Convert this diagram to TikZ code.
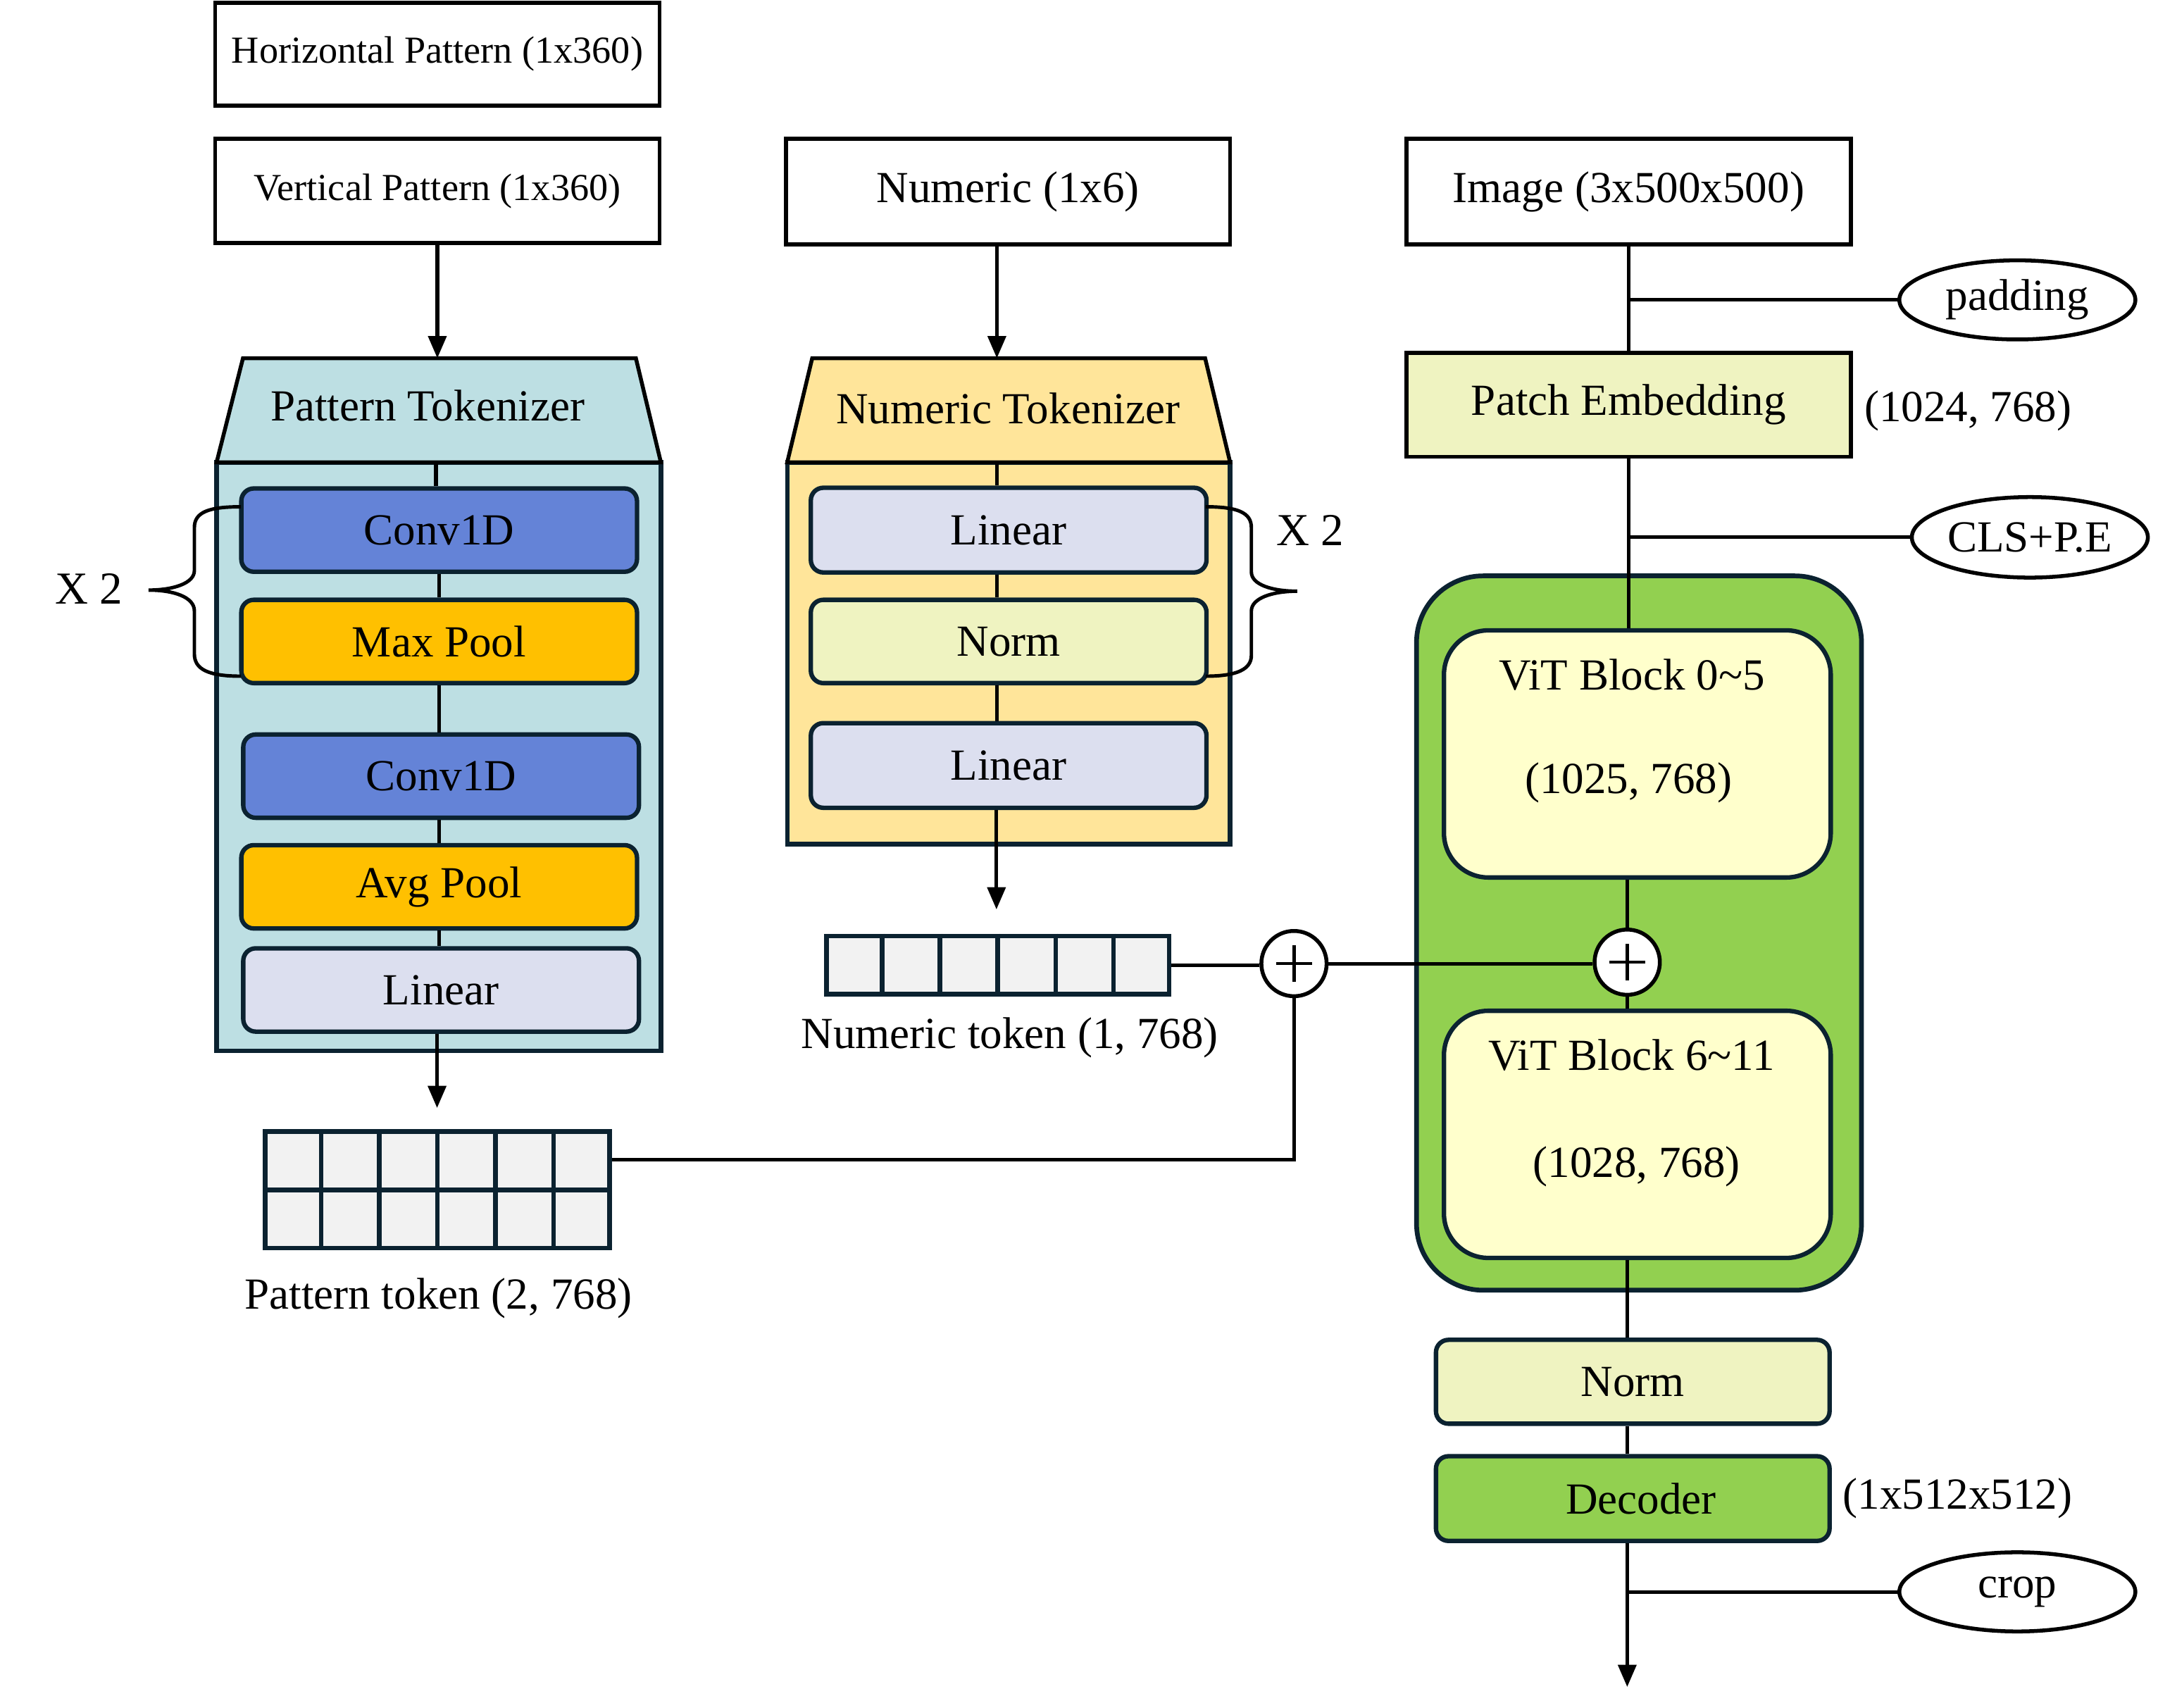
\documentclass[tikz,border=0pt]{standalone}
\usepackage{fontspec}
\setmainfont{Liberation Serif}
\usetikzlibrary{arrows.meta,shapes.geometric,calc}
\definecolor{navy}{HTML}{0B2230}
\definecolor{ptokc}{HTML}{BDDFE3}
\definecolor{ntokc}{HTML}{FFE59A}
\definecolor{convc}{HTML}{6483D7}
\definecolor{poolc}{HTML}{FFC000}
\definecolor{linc}{HTML}{DCDFEF}
\definecolor{normc}{HTML}{EFF3C1}
\definecolor{greenc}{HTML}{92D050}
\definecolor{vitc}{HTML}{FFFFCC}
\definecolor{cellc}{HTML}{F2F2F2}
\newcommand{\myfs}[1]{\fontsize{#1}{#1}\selectfont}
\tikzset{
  plainbox/.style={draw=black, line width=2.9pt, fill=white, inner sep=0pt, font=\myfs{32}},
  blockbox/.style={draw=navy, line width=3.2pt, rounded corners=9pt, inner sep=0pt,
                   minimum width=285pt, minimum height=60pt, font=\myfs{32}},
  conn/.style={line width=2.6pt, draw=black},
  arr/.style={conn, -{Triangle[length=16pt,width=13pt]}},
  oval/.style={ellipse, draw=black, line width=2.8pt, fill=white, inner sep=0pt,
               minimum width=170pt, minimum height=57pt, font=\myfs{32}},
  plusnode/.style={circle, draw=black, line width=2.8pt, fill=white, minimum size=47pt, inner sep=0pt,
    path picture={\draw[line width=2.4pt,black]
      ($(path picture bounding box.center)+(-13pt,0)$) -- ($(path picture bounding box.center)+(13pt,0)$)
      ($(path picture bounding box.center)+(0,-13pt)$) -- ($(path picture bounding box.center)+(0,13pt)$);}},
  bracepath/.style={line width=2.5pt, draw=black},
  txt/.style={inner sep=0pt, font=\myfs{32}},
}
\begin{document}
\begin{tikzpicture}[x=1pt,y=-1pt]
\useasboundingbox[fill=white] (0,0) rectangle (1568,1230);

% ---------------- inputs ----------------
\node[plainbox, minimum width=320pt, minimum height=74pt, font=\myfs{27.5}] (hpat) at (315,39) {Horizontal Pattern (1x360)};
\node[plainbox, minimum width=320pt, minimum height=75pt, font=\myfs{27.5}] (vpat) at (315,137.5) {Vertical Pattern (1x360)};
\node[plainbox, minimum width=320pt, minimum height=76pt] (num) at (726,138) {Numeric (1x6)};
\node[plainbox, minimum width=320pt, minimum height=76pt] (img) at (1173,138) {Image (3x500x500)};

% ---------------- pattern tokenizer ----------------
\node[draw=navy, fill=ptokc, line width=3.2pt, minimum width=320pt, minimum height=424pt, inner sep=0pt] (pbody) at (316,545) {};
\path[fill=ptokc, draw=black, line width=2.8pt, line join=miter] (175,258) -- (458,258) -- (476,333) -- (156,333) -- cycle;
\node[txt] (ptok) at (308,292) {Pattern Tokenizer};
\coordinate (ptraptop) at (314,258);
\coordinate (ptrapbot) at (314,333);

\node[blockbox, fill=convc] (pconv1) at (316.3,381.8) {Conv1D};
\node[blockbox, fill=poolc] (pmax) at (316.3,462) {Max Pool};
\node[blockbox, fill=convc] (pconv2) at (317.7,559) {Conv1D};
\node[blockbox, fill=poolc] (pavg) at (316.3,638.7) {Avg Pool};
\node[blockbox, fill=linc] (plin) at (317.7,713) {Linear};

% ---------------- numeric tokenizer ----------------
\node[draw=navy, fill=ntokc, line width=3.2pt, minimum width=319pt, minimum height=275pt, inner sep=0pt] (nbody) at (726.5,470.5) {};
\path[fill=ntokc, draw=black, line width=2.8pt, line join=miter] (585,258) -- (868,258) -- (886,333) -- (567,333) -- cycle;
\node[txt] (ntok) at (726,294) {Numeric Tokenizer};
\coordinate (ntraptop) at (718,258);
\coordinate (ntrapbot) at (718,333);

\node[blockbox, fill=linc, minimum height=61pt] (nlin1) at (726.5,381.8) {Linear};
\node[blockbox, fill=normc] (nnorm) at (726.5,462) {Norm};
\node[blockbox, fill=linc, minimum height=61pt] (nlin2) at (726.5,551.3) {Linear};

% ---------------- tokens ----------------
\node[draw=navy, fill=cellc, line width=3.2pt, minimum width=248pt, minimum height=84pt, inner sep=0pt] (pgrid) at (315,857) {};
\foreach \k in {1,...,5} {
  \draw[navy, line width=3.2pt] ($(pgrid.north west)!\k/6!(pgrid.north east)$) -- ($(pgrid.south west)!\k/6!(pgrid.south east)$);
}
\draw[navy, line width=3.2pt] (pgrid.west) -- (pgrid.east);
\coordinate (pgridr1) at ($(pgrid.north east)!0.25!(pgrid.south east)$);
\node[txt] (pgridlab) at (315.8,935) {Pattern token (2, 768)};

\node[draw=navy, fill=cellc, line width=3.2pt, minimum width=246.7pt, minimum height=42pt, inner sep=0pt] (ngrid) at (718.6,695) {};
\foreach \k in {1,...,5} {
  \draw[navy, line width=3.2pt] ($(ngrid.north west)!\k/6!(ngrid.north east)$) -- ($(ngrid.south west)!\k/6!(ngrid.south east)$);
}
\node[txt] (ngridlab) at (727.3,747.4) {Numeric token (1, 768)};

\coordinate (pgridtip) at (314.8,798);
\coordinate (ngridtip) at (717.7,655);

% ---------------- ViT side ----------------
\node[plainbox, fill=normc, minimum width=320pt, minimum height=75pt] (patch) at (1173,291.5) {Patch Embedding};
\node[txt] (patchdim) at (1417.5,295.8) {(1024, 768)};
\node[oval] (pad) at (1453,216) {padding};
\node[oval, minimum height=58pt] (cls) at (1462,387) {CLS+P.E};

\node[draw=navy, fill=greenc, line width=3.4pt, rounded corners=48pt, minimum width=320.5pt, minimum height=514.5pt, inner sep=0pt] (vitgroup) at (1180.5,672) {};
\node[draw=navy, fill=vitc, line width=3.2pt, rounded corners=32pt, minimum width=278.6pt, minimum height=178pt, inner sep=0pt] (vit1) at (1179.3,543) {};
\node[txt] (vit1a) at (1175.5,486) {ViT Block 0\char`~5};
\node[txt] (vit1b) at (1173,564) {(1025, 768)};
\node[draw=navy, fill=vitc, line width=3.2pt, rounded corners=32pt, minimum width=278.6pt, minimum height=178pt, inner sep=0pt] (vit2) at (1179.3,817) {};
\node[txt] (vit2a) at (1175,760) {ViT Block 6\char`~11};
\node[txt] (vit2b) at (1178.8,840) {(1028, 768)};

\node[plusnode] (plusR) at (1172,693) {};
\node[plusnode] (plusL) at (932,694) {};

\node[blockbox, fill=normc, minimum width=283.5pt, minimum height=60.4pt] (normR) at (1176,995.2) {Norm};
\node[blockbox, fill=greenc, minimum width=283.5pt, minimum height=61pt] (dec) at (1176,1079.3) {\hspace*{12pt}Decoder};
\node[txt] (decdim) at (1410,1079) {(1x512x512)};
\node[oval] (crop) at (1453,1146.5) {crop};
\coordinate (outtip) at (1172,1215);

% ---------------- connectors ----------------
\draw[arr] (vpat.south) -- (vpat.south |- ptraptop);
\draw[conn] (ptrapbot) -- (ptrapbot |- pconv1.north);
\draw[conn] (pconv1.south) -- (pconv1.south |- pmax.north);
\draw[conn] (pmax.south) -- (pmax.south |- pconv2.north);
\draw[conn] (pconv2.south -| pmax.south) -- (pmax.south |- pavg.north);
\draw[conn] (pavg.south) -- (pavg.south |- plin.north);
\draw[arr] (plin.south -| pgridtip) -- (pgridtip);

\draw[arr] (num.south -| ntraptop) -- (ntraptop);
\draw[conn] (ntrapbot) -- (ntrapbot |- nlin1.north);
\draw[conn] (nlin1.south -| ntrapbot) -- (ntrapbot |- nnorm.north);
\draw[conn] (nnorm.south -| ntrapbot) -- (ntrapbot |- nlin2.north);
\draw[arr] (nlin2.south -| ngridtip) -- (ngridtip);

\draw[conn] (ngrid.east) -- (ngrid.east -| plusL.west);
\draw[conn] (pgridr1) -| (plusL.south);
\draw[conn] (plusL.east) -- (plusL.east -| plusR.west);

\draw[conn] (img.south) -- (patch.north);
\draw[conn] (pad.west -| img.south) -- (pad.west);
\draw[conn] (patch.south) -- (patch.south |- vit1.north);
\draw[conn] (cls.west -| patch.south) -- (cls.west);
\draw[conn] (plusR |- vit1.south) -- (plusR.north);
\draw[conn] (plusR.south) -- (plusR |- vit2.north);
\draw[conn] (plusR |- vit2.south) -- (plusR |- normR.north);
\draw[conn] (plusR |- normR.south) -- (plusR |- dec.north);
\draw[arr] (plusR |- dec.south) -- (outtip);
\draw[conn] (crop.west -| outtip) -- (crop.west);

% ---------------- braces ----------------
\draw[bracepath] (173.5,365) .. controls (150,365) and (140,369) .. (140,380) -- (140,411)
  .. controls (140,420) and (125,425) .. (107,425)
  .. controls (125,425) and (140,430) .. (140,440) -- (140,471)
  .. controls (140,482) and (150,487) .. (173.5,487);
\node[txt, font=\myfs{33}] (x2l) at (64,424) {X 2};

\draw[bracepath] (868.4,365) .. controls (891,365) and (901.3,369) .. (901.3,380) -- (901.3,412)
  .. controls (901.3,421) and (916,425.8) .. (934.3,425.8)
  .. controls (916,425.8) and (901.3,431) .. (901.3,440) -- (901.3,472)
  .. controls (901.3,482) and (891,487) .. (868.4,487);
\node[txt, font=\myfs{33}] (x2r) at (943.6,382) {X 2};
\end{tikzpicture}
\end{document}
